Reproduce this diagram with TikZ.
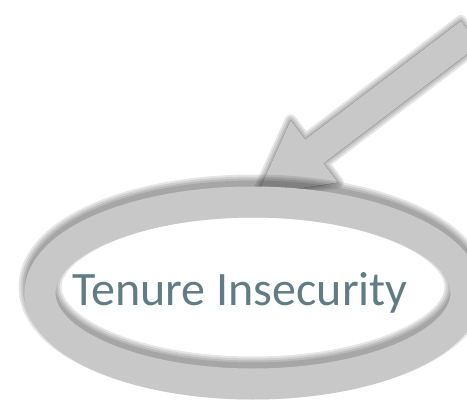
\documentclass[tikz,border=0pt]{standalone}
\usepackage{fontspec}
\setmainfont{Carlito}
\usetikzlibrary{calc,shapes.geometric}
\definecolor{ringgray}{RGB}{200,200,200}
\definecolor{labelteal}{RGB}{96,125,134}
\tikzset{
  softshadow/.style={black,opacity=0.1,line join=round},
  ringstyle/.style={ellipse,draw=ringgray,line width=31pt,inner sep=0pt,
    minimum width=426pt,minimum height=182pt},
  labelstyle/.style={text=labelteal,font=\fontsize{48}{58}\selectfont,inner sep=0pt}
}
\newcommand\arrowoutline{(t1) -- (s1) -- (h1) -- (tip) -- (h2) -- (s2) -- (t2) -- cycle}

\begin{document}
\begin{tikzpicture}[x=1pt,y=-1pt]
\useasboundingbox (0,0) rectangle (467,410);
% block arrow from the corner
\coordinate (tail) at (470,33);
\coordinate (tip) at (257,195);
\coordinate (base) at ($(tip)!72pt!(tail)$);
\coordinate (t1) at ($(tail)!15pt!90:(tip)$);
\coordinate (t2) at ($(tail)!15pt!-90:(tip)$);
\coordinate (s1) at ($(base)!15pt!90:(tip)$);
\coordinate (s2) at ($(base)!15pt!-90:(tip)$);
\coordinate (h1) at ($(base)!39pt!90:(tip)$);
\coordinate (h2) at ($(base)!39pt!-90:(tip)$);
\foreach \w in {12,8,4,1}
  \filldraw[softshadow,line width=\w pt,shift={(-4,-5)}] \arrowoutline;
\fill[ringgray] \arrowoutline;
% ring round the label
\coordinate (c) at (253,293);
\foreach \w in {43,39,35,31}
  \draw[softshadow,line width=\w pt] ($(c)+(0,-6)$) ellipse (213 and 91);
\node[ringstyle] (ring) at (c) {};
\node[labelstyle,anchor=base] (lbl) at (240,305) {Tenure Insecurity};
\end{tikzpicture}
\end{document}
